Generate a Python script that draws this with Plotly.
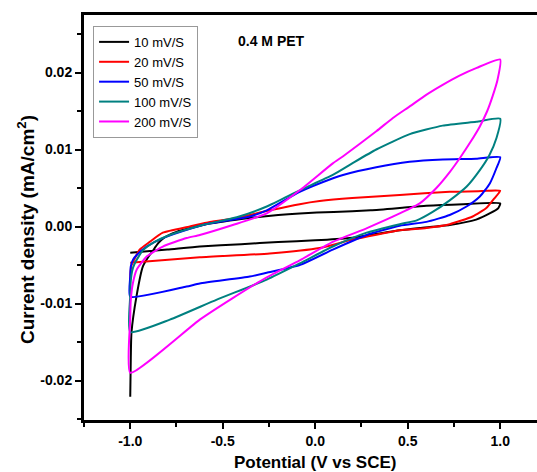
import plotly.graph_objects as go

# ---- data ----
series_names = ["10 mV/S", "20 mV/S", "50 mV/S", "100 mV/S", "200 mV/S"]

v_10 = [-1.0, -0.997, -0.9935, -0.9665, -0.932, -0.895, -0.882, -0.85, -0.82, -0.75, -0.608,
        -0.39, -0.2, -0.084, 0.1, 0.3, 0.457, 0.6, 0.8, 1.0,
        0.99, 0.943, 0.87, 0.727, 0.565, 0.457, 0.3, 0.186, 0.0, -0.2, -0.4, -0.624, -0.8, -1.0]
i_10 = [-0.0221, -0.0170, -0.0138, -0.0091, -0.0052, -0.0037, -0.0033, -0.0022, -0.0015, -0.0007, 0.0002,
        0.0010, 0.0015, 0.0017, 0.0019, 0.0021, 0.0024, 0.0027, 0.0029, 0.0030,
        0.0024, 0.0017, 0.0009, 0.0002, -0.0002, -0.0005, -0.0011, -0.0015, -0.0018, -0.0020, -0.0023, -0.0026, -0.0030, -0.0034]

v_20 = [-1.0, -0.998, -0.993, -0.985, -0.949, -0.895, -0.824, -0.678, -0.57, -0.424, -0.354, -0.246,
        -0.084, 0.024, 0.2, 0.457, 0.727, 0.9, 1.0,
        0.97, 0.925, 0.851, 0.727, 0.601, 0.457, 0.203, 0.024, -0.246, -0.624, -1.0]
i_20 = [-0.0069, -0.0058, -0.0050, -0.0046, -0.0030, -0.0020, -0.0008, 0.0000, 0.0006, 0.0011, 0.0015, 0.0021,
        0.0029, 0.0033, 0.0037, 0.0041, 0.0045, 0.0046, 0.00465,
        0.0037, 0.0024, 0.0013, 0.0003, -0.0002, -0.0005, -0.0017, -0.0028, -0.0035, -0.0040, -0.0047]

v_50 = [-1.0, -1.0, -0.997, -0.985, -0.965, -0.911, -0.824, -0.608, -0.354, -0.262, -0.084, 0.1,
        0.15, 0.33, 0.51, 0.69, 0.87, 1.0,
        0.98, 0.944, 0.89, 0.818, 0.727, 0.601, 0.457, 0.278, 0.095, -0.084, -0.262, -0.354, -0.624, -0.696, -1.0]
i_50 = [-0.0091, -0.0065, -0.0052, -0.0043, -0.0037, -0.0026, -0.0015, 0.0002, 0.0013, 0.0021, 0.0045, 0.0063,
        0.0067, 0.0077, 0.0084, 0.0087, 0.0088, 0.0090,
        0.0076, 0.0056, 0.0039, 0.0026, 0.0015, 0.0006, 0.0001, -0.0011, -0.0030, -0.0050, -0.0060, -0.0065, -0.0074, -0.0078, -0.0091]

v_100 = [-1.0, -1.0, -0.997, -0.99, -0.976, -0.932, -0.868, -0.786, -0.608, -0.424, -0.262, -0.084,
         0.095, 0.2, 0.33, 0.511, 0.689, 0.87, 1.0,
         0.98, 0.94, 0.889, 0.819, 0.727, 0.635, 0.549, 0.457, 0.278, 0.095, -0.084, -0.262, -0.532, -0.786, -1.0]
i_100 = [-0.0137, -0.0090, -0.0070, -0.0058, -0.0048, -0.0031, -0.0020, -0.0011, 0.0002, 0.0012, 0.0026, 0.0047,
         0.0067, 0.0082, 0.0100, 0.0120, 0.0131, 0.0136, 0.0140,
         0.0115, 0.0092, 0.0073, 0.0052, 0.0034, 0.0019, 0.0008, 0.0003, -0.0008, -0.0026, -0.0048, -0.0069, -0.0095, -0.0121, -0.0137]

v_200 = [-1.0, -1.0, -0.997, -0.986, -0.965, -0.911, -0.824, -0.695, -0.624, -0.446, -0.262, -0.084,
         0.095, 0.149, 0.332, 0.42, 0.511, 0.6, 0.689, 0.78, 0.873, 1.0,
         0.985, 0.96, 0.93, 0.89, 0.84, 0.785, 0.725, 0.655, 0.565, 0.457, 0.28, 0.095, -0.084, -0.262, -0.446, -0.624, -1.0]
i_200 = [-0.0190, -0.0120, -0.0095, -0.0074, -0.0056, -0.0039, -0.0026, -0.0015, -0.0011, 0.0002, 0.0017, 0.0047,
         0.0082, 0.0091, 0.0124, 0.0141, 0.0156, 0.0171, 0.0184, 0.0196, 0.0206, 0.0217,
         0.0190, 0.0170, 0.0150, 0.0130, 0.0110, 0.0090, 0.0070, 0.0050, 0.0030, 0.0017, -0.0002, -0.0020, -0.0044, -0.0066, -0.0093, -0.0121, -0.0190]

x_tick_vals = [-1.0, -0.5, 0.0, 0.5, 1.0]
x_tick_text = ["-1.0", "-0.5", "0.0", "0.5", "1.0"]
y_tick_vals = [-0.02, -0.01, 0.0, 0.01, 0.02]
y_tick_text = ["-0.02", "-0.01", "0.00", "0.01", "0.02"]

colors = ["#000000", "#FF0000", "#0000FF", "#008080", "#FF00FF"]

FONT = "Liberation Sans, Arial, sans-serif"

fig = go.Figure()
for name, vx, iy, c in zip(series_names, [v_10, v_20, v_50, v_100, v_200],
                           [i_10, i_20, i_50, i_100, i_200], colors):
    fig.add_trace(go.Scatter(x=vx, y=iy, mode="lines", name=name,
                             line=dict(color=c, width=2, shape="spline", smoothing=0.5)))

axis_common = dict(showgrid=False, zeroline=False, showline=True, linecolor="black",
                   linewidth=3, ticks="outside", ticklen=6, tickwidth=2, tickcolor="black",
                   automargin=False,
                   tickfont=dict(family=FONT, size=14, color="black", weight="bold"))

fig.update_xaxes(range=[-1.25, 1.199], tickvals=x_tick_vals, ticktext=x_tick_text,
                 mirror=True,
                 minor=dict(ticks="outside", ticklen=4, tickwidth=2, tickcolor="black",
                            tick0=-1.25, dtick=0.25, showgrid=False),
                 **axis_common)
fig.update_yaxes(range=[-0.02513, 0.02747], tickvals=y_tick_vals, ticktext=y_tick_text,
                 minor=dict(ticks="outside", ticklen=4, tickwidth=2, tickcolor="black",
                            tick0=0.005, dtick=0.01, showgrid=False),
                 **axis_common)

fig.update_layout(
    width=537, height=472,
    margin=dict(l=84, r=0, t=15, b=52),
    paper_bgcolor="white", plot_bgcolor="white",
    showlegend=True,
    legend=dict(x=0.02, y=0.973, xanchor="left", yanchor="top",
                bordercolor="#999999", borderwidth=1, bgcolor="white",
                tracegroupgap=0,
                font=dict(family=FONT, size=13, color="black")),
    annotations=[
        dict(text="0.4 M PET", x=0.415, y=0.936, xref="paper", yref="paper",
             showarrow=False, xanchor="center", yanchor="middle",
             font=dict(family=FONT, size=14, color="black", weight="bold")),
        dict(text="Potential (V vs SCE)", x=0.51, y=-0.106, xref="paper", yref="paper",
             showarrow=False, xanchor="center", yanchor="middle",
             font=dict(family=FONT, size=17, color="black", weight="bold")),
        dict(text="Current density (mA/cm<sup>2</sup>)", x=-0.128, y=0.469,
             xref="paper", yref="paper", textangle=-90,
             showarrow=False, xanchor="center", yanchor="middle",
             font=dict(family=FONT, size=19, color="black", weight="bold")),
    ],
)

# remove the page's default body margin so the figure sits at the window's corner
post = ("document.documentElement.style.overflow='hidden';"
        "document.body.style.margin='0';document.body.style.overflow='hidden';")
fig.write_html("out.html", post_script=post, config={"displayModeBar": False})
